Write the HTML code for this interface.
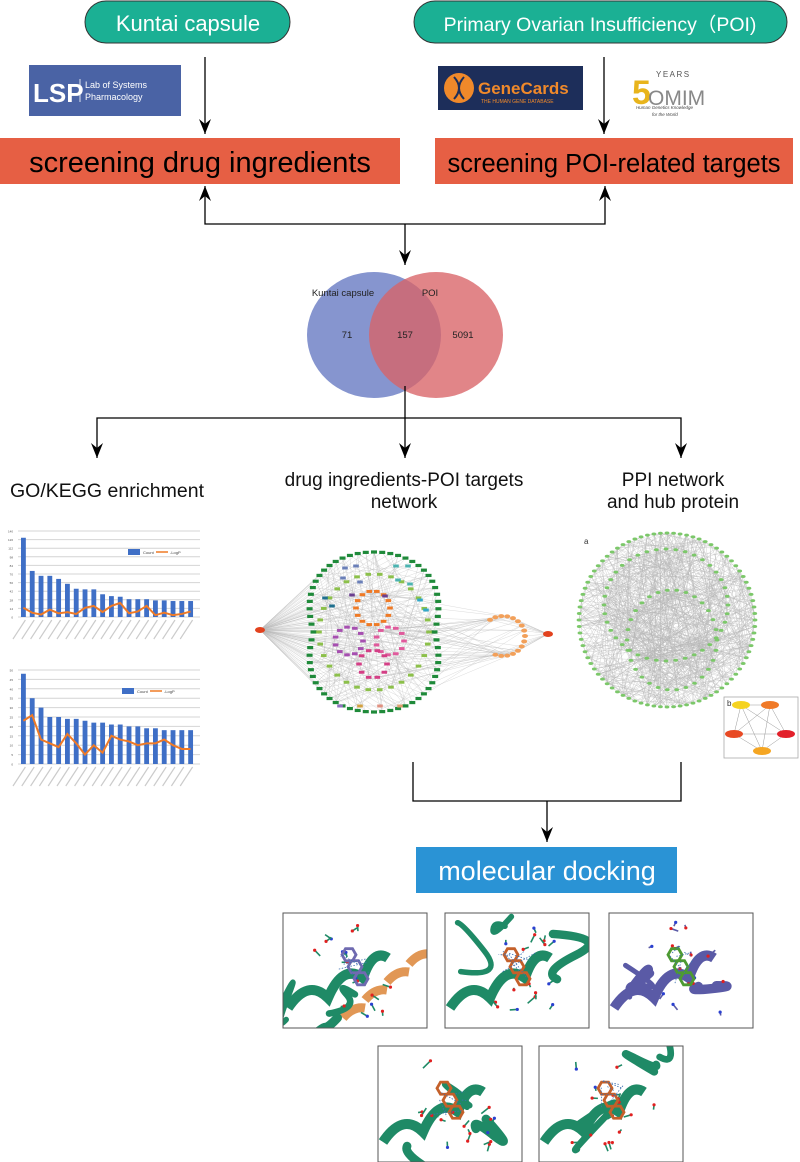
<!DOCTYPE html>
<html><head><meta charset="utf-8">
<style>
html,body{margin:0;padding:0;background:#fff;}
body{width:800px;height:1162px;overflow:hidden;position:relative;font-family:"Liberation Sans",Arial,sans-serif;}
svg{position:absolute;left:0;top:0;}
</style></head>
<body>
<svg id="s" width="800" height="1162" viewBox="0 0 800 1162" xmlns="http://www.w3.org/2000/svg" font-family="Liberation Sans, Arial, sans-serif">
<defs>
<marker id="ah" markerWidth="15" markerHeight="12" refX="15" refY="6" orient="auto-start-reverse" markerUnits="userSpaceOnUse" viewBox="0 0 15 12">
<path d="M0,0 L15,6 L0,12 L5,6 Z" fill="#000"/></marker>
</defs>
<rect x="85" y="1" width="205" height="42" rx="21" fill="#1bb094" stroke="#333" stroke-width="1"/>
<text x="188" y="31" font-size="22" fill="#fff" text-anchor="middle">Kuntai capsule</text>
<rect x="414" y="1" width="373" height="42" rx="21" fill="#1bb094" stroke="#333" stroke-width="1"/>
<text x="600" y="31" font-size="19.5" fill="#fff" text-anchor="middle">Primary Ovarian Insufficiency（POI)</text>
<rect x="29" y="65" width="152" height="51" fill="#4a63a5"/>
<text x="33" y="102" font-size="26" fill="#fff" font-weight="bold">LSP</text>
<line x1="80" y1="79" x2="80" y2="102" stroke="#fff" stroke-width="0.8"/>
<text x="85" y="88" font-size="9" fill="#fff">Lab of Systems</text>
<text x="85" y="100" font-size="9" fill="#fff">Pharmacology</text>
<rect x="438" y="66" width="145" height="44" fill="#1d2e5a"/>
<circle cx="459" cy="88" r="15" fill="#f0892a"/>
<path d="M454,77 Q464,88 454,99 M464,77 Q454,88 464,99" stroke="#1d2e5a" stroke-width="2" fill="none"/>
<text x="478" y="94" font-size="17" fill="#f0892a" font-weight="bold">GeneCards</text>
<text x="481" y="103" font-size="5" fill="#f0892a">THE HUMAN GENE DATABASE</text>
<text x="632" y="104" font-size="34" fill="#e8b41c" font-weight="bold">5</text>
<text x="656" y="77" font-size="8" fill="#555" letter-spacing="1.5">YEARS</text>
<text x="648" y="105" font-size="21" fill="#888">OMIM</text>
<text x="636" y="109" font-size="4.5" fill="#444" font-style="italic">Human Genetics Knowledge</text>
<text x="652" y="116" font-size="4.5" fill="#444" font-style="italic">for the World</text>
<line x1="205" y1="57" x2="205" y2="134" stroke="#000" stroke-width="1.3" marker-end="url(#ah)"/>
<line x1="604" y1="57" x2="604" y2="134" stroke="#000" stroke-width="1.3" marker-end="url(#ah)"/>
<rect x="0" y="138" width="400" height="46" fill="#e65f44"/>
<text x="200" y="172" font-size="29" fill="#000" text-anchor="middle">screening drug ingredients</text>
<rect x="435" y="138" width="358" height="46" fill="#e65f44"/>
<text x="614" y="172" font-size="25.5" fill="#000" text-anchor="middle">screening POI-related targets</text>
<polyline points="205,186 205,224 605,224 605,186" fill="none" stroke="#000" stroke-width="1.3" marker-start="url(#ah)" marker-end="url(#ah)"/>
<line x1="405" y1="224" x2="405" y2="265" stroke="#000" stroke-width="1.3" marker-end="url(#ah)"/>
<ellipse cx="374" cy="335" rx="67" ry="63" fill="#7f8fcc" opacity="0.95"/>
<ellipse cx="436" cy="335" rx="67" ry="63" fill="#d96366" opacity="0.78"/>
<text x="343" y="296" font-size="9.5" text-anchor="middle" fill="#222">Kuntai capsule</text>
<text x="430" y="296" font-size="9.5" text-anchor="middle" fill="#222">POI</text>
<text x="347" y="338" font-size="9.5" text-anchor="middle" fill="#222">71</text>
<text x="405" y="338" font-size="9.5" text-anchor="middle" fill="#222">157</text>
<text x="463" y="338" font-size="9.5" text-anchor="middle" fill="#222">5091</text>
<line x1="405" y1="386" x2="405" y2="418" stroke="#000" stroke-width="1.3"/>
<polyline points="97,458 97,418 681,418 681,458" fill="none" stroke="#000" stroke-width="1.3" marker-start="url(#ah)" marker-end="url(#ah)"/>
<line x1="405" y1="418" x2="405" y2="458" stroke="#000" stroke-width="1.3" marker-end="url(#ah)"/>
<text x="10" y="497" font-size="19.5" fill="#111">GO/KEGG enrichment</text>
<text x="404" y="486" font-size="19" fill="#111" text-anchor="middle">drug ingredients-POI targets</text>
<text x="404" y="508" font-size="19" fill="#111" text-anchor="middle">network</text>
<text x="673" y="486" font-size="19" fill="#111" text-anchor="middle">PPI network</text>
<text x="673" y="508" font-size="19" fill="#111" text-anchor="middle">and hub protein</text>
<g id="charts"></g>
<g id="net"></g>
<g id="ppi"></g>
<text x="584" y="544" font-size="8" fill="#333">a</text>
<rect x="724" y="697" width="74" height="61" fill="#fff" stroke="#aaa" stroke-width="0.8"/>
<text x="727" y="706" font-size="8" fill="#333">b</text>
<g stroke="#999" stroke-width="0.5">
<line x1="741" y1="705" x2="770" y2="705"/><line x1="741" y1="705" x2="734" y2="734"/><line x1="741" y1="705" x2="786" y2="734"/><line x1="741" y1="705" x2="762" y2="751"/>
<line x1="770" y1="705" x2="734" y2="734"/><line x1="770" y1="705" x2="786" y2="734"/><line x1="770" y1="705" x2="762" y2="751"/>
<line x1="734" y1="734" x2="786" y2="734"/><line x1="734" y1="734" x2="762" y2="751"/><line x1="786" y1="734" x2="762" y2="751"/>
</g>
<ellipse cx="741" cy="705" rx="9" ry="4" fill="#f5d321"/>
<ellipse cx="770" cy="705" rx="9" ry="4" fill="#f07a28"/>
<ellipse cx="734" cy="734" rx="9" ry="4" fill="#e84a24"/>
<ellipse cx="786" cy="734" rx="9" ry="4" fill="#e2202a"/>
<ellipse cx="762" cy="751" rx="9" ry="4" fill="#f5a623"/>
<polyline points="413,762 413,801 681,801 681,762" fill="none" stroke="#000" stroke-width="1.3"/>
<line x1="547" y1="801" x2="547" y2="842" stroke="#000" stroke-width="1.3" marker-end="url(#ah)"/>
<rect x="416" y="847" width="261" height="46" fill="#2a93d5"/>
<text x="547" y="880" font-size="27" fill="#fff" text-anchor="middle">molecular docking</text>
<g id="dock"></g>
</svg>
<script>
var NS="http://www.w3.org/2000/svg";
function el(p,t,a){var e=document.createElementNS(NS,t);for(var k in a)e.setAttribute(k,a[k]);p.appendChild(e);return e;}
var seed=7;function rnd(){seed=(seed*16807)%2147483647;return (seed-1)/2147483646;}
var C=document.getElementById('charts');
function chart(top,bot,max,bars,line,legX){
 var n=10;
 for(var i=0;i<=n;i++){var y=bot-(bot-top)*i/n;el(C,'line',{x1:18,y1:y,x2:200,y2:y,stroke:'#d4d4d4','stroke-width':1});
 var t=el(C,'text',{x:13,y:y+1.5,'font-size':3,fill:'#555','text-anchor':'end'});t.textContent=Math.round(max*i/n);}
 var w=(197-21)/bars.length;var pts=[];
 for(var j=0;j<bars.length;j++){var x=21+j*w;var h=(bot-top)*bars[j]/max;
 el(C,'rect',{x:x,y:bot-h,width:w*0.55,height:h,fill:'#3f6fc6'});
 pts.push((x+w*0.27)+','+(bot-(bot-top)*line[j]/max));
 el(C,'line',{x1:x+w*0.5,y1:bot+3,x2:x-8,y2:bot+22,stroke:'#aaa','stroke-width':1.2,opacity:0.6});}
 el(C,'polyline',{points:pts.join(' '),fill:'none',stroke:'#ef7a26','stroke-width':2});
 el(C,'rect',{x:legX,y:top+18,width:12,height:6,fill:'#3f6fc6'});
 var t1=el(C,'text',{x:legX+15,y:top+23,'font-size':4,fill:'#444'});t1.textContent='Count';
 el(C,'line',{x1:legX+28,y1:top+21,x2:legX+40,y2:top+21,stroke:'#ef7a26','stroke-width':1.5});
 var t2=el(C,'text',{x:legX+42,y:top+23,'font-size':4,fill:'#444'});t2.textContent='-LogP';
}
chart(531,617,140,[129,75,67,67,62,54,46,45,45,37,34,33,29,29,29,27,27,26,26,26],[15,7,4,12,6,8,5,15,18,8,18,23,6,9,18,3,7,3,5,9],128);
chart(670,764,50,[48,35,30,25,25,24,24,23,22,22,21,21,20,20,19,19,18,18,18,18],[23,26,13,11,9,16,11,5,10,6,15,13,12,10,11,11,13,10,8,8],122);
var N=document.getElementById('net');
var L=[260,630],R=[548,634];
var green=[],inner=[],ring=[];
for(var i=0;i<64;i++){var a=i/64*2*Math.PI;var s=Math.sin(a);var x=374+84*Math.cos(a)*(0.72+0.28*Math.abs(s));var y=632+80*s;green.push([x,y]);}
var groups=[[373,608,17,14,'#ef7a26'],[349,641,14,11,'#a64fb0'],[390,641,14,11,'#e05a9c'],[373,664,14,10,'#d43f86']];
groups.forEach(function(g){for(var i=0;i<g[3];i++){var a=i/g[3]*2*Math.PI;inner.push([g[0]+g[2]*Math.cos(a),g[1]+g[2]*Math.sin(a),g[4]]);}});
for(var i=0;i<30;i++){var a=i/30*2*Math.PI;inner.push([374+55*Math.cos(a),632+58*Math.sin(a),'#8cc04a']);}
var sc=[[345,568,'#6a7fb8'],[356,566,'#6a7fb8'],[343,578,'#6a7fb8'],[360,582,'#6a7fb8'],[396,566,'#4bb3b0'],[408,566,'#4bb3b0'],[398,580,'#4bb3b0'],[410,584,'#4bb3b0'],[352,595,'#6a3f90'],[385,596,'#6a3f90'],[325,598,'#1e6f8e'],[332,606,'#1e6f8e'],[420,600,'#32a8c8'],[426,610,'#32a8c8'],[340,706,'#8f6fc0'],[360,706,'#d2a040'],[380,706,'#e09080'],[400,706,'#e0a070']];
sc.forEach(function(p){inner.push(p);});
for(var i=0;i<16;i++){var a=-2.2+i/16*4.4;ring.push([503+22*Math.cos(a),636+20*Math.sin(a)]);}
var gL=el(N,'g',{stroke:'#999','stroke-width':0.25,opacity:0.7});
green.forEach(function(p){el(gL,'line',{x1:L[0],y1:L[1],x2:p[0],y2:p[1]});});
inner.forEach(function(p,k){if(k%3==0)el(gL,'line',{x1:L[0],y1:L[1],x2:p[0],y2:p[1]});});
for(var i=0;i<170;i++){var g=green[Math.floor(rnd()*green.length)],q=inner[Math.floor(rnd()*inner.length)];el(gL,'line',{x1:g[0],y1:g[1],x2:q[0],y2:q[1]});}
for(var i=0;i<50;i++){var g=ring[Math.floor(rnd()*ring.length)],q=(rnd()<0.5?green:inner)[Math.floor(rnd()*40)];el(gL,'line',{x1:g[0],y1:g[1],x2:q[0],y2:q[1]});}
ring.forEach(function(p){el(gL,'line',{x1:R[0],y1:R[1],x2:p[0],y2:p[1]});});
green.forEach(function(p){el(N,'rect',{x:p[0]-3,y:p[1]-1.6,width:6,height:3.2,fill:'#1f8a3a'});});
inner.forEach(function(p){el(N,'rect',{x:p[0]-2.8,y:p[1]-1.5,width:5.6,height:3,fill:p[2]});});
ring.forEach(function(p){el(N,'ellipse',{cx:p[0],cy:p[1],rx:3,ry:2,fill:'#f2a05a'});});
el(N,'ellipse',{cx:L[0],cy:L[1],rx:5,ry:3,fill:'#e2421e'});
el(N,'ellipse',{cx:R[0],cy:R[1],rx:5,ry:3,fill:'#e2421e'});
var P=document.getElementById('ppi');var pn=[];
function ringP(cx,cy,rx,ry,n){for(var i=0;i<n;i++){var a=i/n*2*Math.PI;pn.push([cx+rx*Math.cos(a),cy+ry*Math.sin(a)]);}}
ringP(667,620,88,87,84);ringP(666,605,62,56,40);ringP(672,640,45,50,30);
var gP=el(P,'g',{stroke:'#909090','stroke-width':0.3,opacity:0.65});
for(var i=0;i<700;i++){var a=pn[Math.floor(rnd()*pn.length)],b=pn[Math.floor(rnd()*pn.length)];el(gP,'line',{x1:a[0],y1:a[1],x2:b[0],y2:b[1]});}
pn.forEach(function(p){el(P,'ellipse',{cx:p[0],cy:p[1],rx:2.4,ry:1.5,fill:'#7cc86a'});});
var D=document.getElementById('dock');
var boxes=[[283,913,144,115,'#1f8a66'],[445,913,144,115,'#1f8a66'],[609,913,144,115,'#5a5aa6'],[378,1046,144,116,'#1f8a66'],[539,1046,144,116,'#1f8a66']];
var lig=['#6f6ab0','#c4602a','#4d9a32','#c4602a','#c4602a'];
boxes.forEach(function(b,k){
 var g=el(D,'g',{});
 var cp=el(g,'clipPath',{id:'c'+k});el(cp,'rect',{x:b[0],y:b[1],width:b[2],height:b[3]});
 var gg=el(g,'g',{'clip-path':'url(#c'+k+')'});
 el(gg,'rect',{x:b[0],y:b[1],width:b[2],height:b[3],fill:'#fff'});
 var x0=b[0],y0=b[1];
 if(k==0){for(var i=0;i<4;i++)el(gg,'path',{d:'M'+(x0+60+i*22)+','+(y0+105-i*18)+' q10,-12 22,-10',stroke:'#d7741c','stroke-width':9,fill:'none',opacity:0.75});}
 for(var i=0;i<3;i++){var sx=x0+rnd()*b[2],sy=y0+rnd()*b[3];
  el(gg,'path',{d:'M'+sx+','+sy+' q'+(rnd()*40-20)+','+(rnd()*40-20)+' '+(rnd()*60-30)+','+(rnd()*60-30)+' t'+(rnd()*50-25)+','+(rnd()*50-25),stroke:b[4],'stroke-width':5+rnd()*5,fill:'none','stroke-linecap':'round'});}
 el(gg,'path',{d:'M'+(x0+5)+','+(y0+b[3]-20)+' q20,-30 40,-10 q15,-35 35,-20 q10,-30 25,-20',stroke:b[4],'stroke-width':10,fill:'none'});
 for(var i=0;i<16;i++){var sx=x0+b[2]*0.25+rnd()*b[2]*0.55,sy=y0+10+rnd()*(b[3]-20);var ex=sx+rnd()*16-8,ey=sy+rnd()*16-8;
  el(gg,'line',{x1:sx,y1:sy,x2:ex,y2:ey,stroke:b[4],'stroke-width':1.6});
  el(gg,'circle',{cx:ex,cy:ey,r:1.6,fill:rnd()<0.7?'#e02020':'#2a40d0'});}
 var lx=x0+b[2]*0.5,ly=y0+b[3]*0.45;
 for(var h=0;h<3;h++){var cx=lx+h*6-6,cy=ly+h*12-10,pts=[];for(var j=0;j<6;j++){var a=j*Math.PI/3;pts.push((cx+7*Math.cos(a))+','+(cy+7*Math.sin(a)));}
  el(gg,'polygon',{points:pts.join(' '),fill:'none',stroke:lig[k],'stroke-width':2.8});}
 for(var i=0;i<6;i++)el(gg,'line',{x1:lx+rnd()*30-15,y1:ly+rnd()*30-15,x2:lx+rnd()*40-20,y2:ly+rnd()*40-20,stroke:'#3b6fb0','stroke-width':0.8,'stroke-dasharray':'1.5,1.5'});
 el(g,'rect',{x:b[0],y:b[1],width:b[2],height:b[3],fill:'none',stroke:'#555','stroke-width':1});
});
</script>
</body></html>
